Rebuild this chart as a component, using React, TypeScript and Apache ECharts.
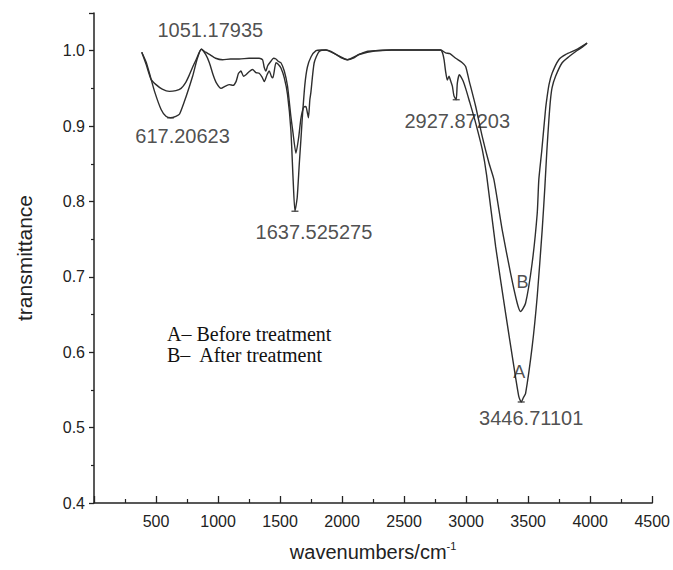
import React, { useEffect, useRef } from 'react';
import * as echarts from 'echarts';

// Curve A - before treatment
const waveA = [385, 420, 447, 490, 541, 580, 617, 660, 690, 742, 795, 830, 865, 900, 930, 960, 984, 1024, 1060, 1091, 1120, 1145, 1165, 1185, 1205, 1225, 1250, 1278, 1305, 1332, 1355, 1373, 1395, 1413, 1430, 1442, 1467, 1485, 1507, 1534, 1560, 1587, 1605, 1620, 1638, 1655, 1668, 1681, 1700, 1720, 1750, 1790, 1830, 1870, 1910, 1950, 2000, 2043, 2090, 2137, 2200, 2272, 2400, 2600, 2795, 2810, 2822, 2835, 2848, 2862, 2875, 2889, 2902, 2920, 2929, 2945, 2956, 2975, 2996, 3023, 3077, 3130, 3165, 3238, 3318, 3385, 3425, 3444, 3462, 3479, 3532, 3573, 3613, 3635, 3651, 3667, 3680, 3693, 3721, 3774, 3828, 3884, 3930, 3975];
const transA = [0.998, 0.985, 0.970, 0.945, 0.922, 0.913, 0.911, 0.913, 0.916, 0.939, 0.966, 0.988, 1.002, 0.995, 0.984, 0.968, 0.958, 0.950, 0.953, 0.955, 0.954, 0.959, 0.970, 0.973, 0.966, 0.968, 0.972, 0.975, 0.971, 0.970, 0.965, 0.959, 0.968, 0.973, 0.966, 0.964, 0.984, 0.982, 0.977, 0.964, 0.942, 0.895, 0.830, 0.787, 0.805, 0.850, 0.882, 0.915, 0.955, 0.978, 0.992, 1.000, 1.001, 1.001, 0.999, 0.995, 0.990, 0.988, 0.990, 0.995, 0.999, 1.000, 1.001, 1.001, 1.001, 0.997, 0.988, 0.972, 0.961, 0.966, 0.960, 0.953, 0.940, 0.935, 0.957, 0.968, 0.966, 0.960, 0.950, 0.935, 0.904, 0.869, 0.835, 0.740, 0.652, 0.581, 0.541, 0.534, 0.540, 0.545, 0.607, 0.674, 0.762, 0.820, 0.868, 0.908, 0.935, 0.951, 0.966, 0.984, 0.992, 0.999, 1.004, 1.010];

// Curve B - after treatment
const waveB = [385, 420, 460, 500, 550, 608, 660, 702, 740, 769, 800, 823, 865, 900, 930, 980, 1037, 1100, 1171, 1250, 1332, 1359, 1372, 1386, 1400, 1426, 1447, 1467, 1485, 1507, 1534, 1560, 1587, 1605, 1628, 1650, 1668, 1690, 1708, 1720, 1729, 1740, 1748, 1775, 1815, 1870, 1950, 2043, 2137, 2272, 2400, 2600, 2795, 2835, 2869, 2916, 2969, 2996, 3023, 3077, 3130, 3184, 3224, 3291, 3358, 3412, 3439, 3479, 3532, 3573, 3586, 3610, 3640, 3653, 3668, 3693, 3747, 3804, 3884, 3975];
const transB = [0.998, 0.982, 0.962, 0.955, 0.949, 0.946, 0.947, 0.950, 0.958, 0.968, 0.980, 0.988, 1.002, 0.998, 0.995, 0.990, 0.988, 0.989, 0.989, 0.990, 0.990, 0.988, 0.978, 0.973, 0.980, 0.986, 0.990, 0.989, 0.986, 0.984, 0.973, 0.953, 0.913, 0.890, 0.864, 0.885, 0.910, 0.925, 0.926, 0.918, 0.911, 0.935, 0.944, 0.984, 0.999, 1.001, 0.995, 0.988, 0.995, 1.000, 1.001, 1.001, 1.001, 0.997, 0.996, 0.990, 0.984, 0.979, 0.961, 0.926, 0.886, 0.851, 0.829, 0.762, 0.705, 0.665, 0.654, 0.665, 0.718, 0.784, 0.829, 0.868, 0.922, 0.939, 0.955, 0.970, 0.988, 0.995, 1.001, 1.010];

// Annotated peaks
const peakWave = [617, 865, 1620, 2920, 3444];
const peakTrans = [0.911, 1.002, 0.787, 0.935, 0.534];
const peakLabels = ['617.20623', '1051.17935', '1637.525275', '2927.87203', '3446.71101'];

// Curve tags at minima
const tagWave = [3444, 3439];
const tagTrans = [0.534, 0.654];
const tagLabels = ['A', 'B'];

const seriesNames = ['A\u2013 Before treatment', 'B\u2013  After treatment'];

// Layout (styles)
const peakLabelOffsets = [[12, 18], [9, -19], [19, 21], [1, 21], [10, 16]];
const peakMarkerShown = [true, false, true, true, true];
const tagOffsets = [[-2, -30], [2, -30]];

const SANS = "'Liberation Sans', Arial, Helvetica, sans-serif";
const SERIF = "'Liberation Serif', 'Times New Roman', serif";

export default function App() {
  const ref = useRef<HTMLDivElement>(null);

  useEffect(() => {
    document.body.style.margin = '0';
    if (!ref.current) return;
    const chart = echarts.init(ref.current, undefined, { renderer: 'svg' });

    const dataA = waveA.map((w, i) => [w, transA[i]]);
    const dataB = waveB.map((w, i) => [w, transB[i]]);

    const peakData = peakWave.map((w, i) => ({
      value: [w, peakTrans[i]],
      symbolSize: peakMarkerShown[i] ? [7, 1.5] : 0,
      label: {
        show: true,
        position: 'inside',
        offset: peakLabelOffsets[i],
        formatter: peakLabels[i],
      },
    }));

    const tagData = tagWave.map((w, i) => ({
      value: [w, tagTrans[i]],
      label: {
        show: true,
        position: 'inside',
        offset: tagOffsets[i],
        formatter: tagLabels[i],
      },
    }));

    const lineColor = '#2e2e2e';

    const option: any = {
      animation: false,
      backgroundColor: '#ffffff',
      grid: { left: 94, right: 19, top: 13, bottom: 67 },
      legend: {
        data: seriesNames,
        orient: 'vertical',
        left: 162,
        top: 324,
        padding: 0,
        icon: 'none',
        itemWidth: 0,
        itemHeight: 20,
        itemGap: 1,
        selectedMode: false,
        textStyle: { fontFamily: SERIF, fontSize: 20, color: '#111', lineHeight: 20 },
      },
      xAxis: {
        type: 'value',
        min: 0,
        max: 4500,
        interval: 500,
        name: '{t|wavenumbers/cm}{s|-1}',
        nameLocation: 'middle',
        nameGap: 37,
        nameTextStyle: {
          rich: {
            t: { fontFamily: SANS, fontSize: 20, color: '#222', lineHeight: 24 },
            s: { fontFamily: SANS, fontSize: 11, color: '#222', lineHeight: 12, verticalAlign: 'top' },
          },
        },
        axisLine: { onZero: false, lineStyle: { color: '#222', width: 1.5 } },
        axisTick: { inside: true, length: 7, lineStyle: { color: '#222', width: 1.3 } },
        minorTick: { show: true, splitNumber: 2, length: 4, lineStyle: { color: '#222', width: 1.2 } },
        axisLabel: {
          margin: 10,
          fontFamily: SANS,
          fontSize: 16,
          color: '#222',
          formatter: (v: number) => (v === 0 ? '' : String(v)),
        },
        splitLine: { show: false },
      },
      yAxis: {
        type: 'value',
        min: 0.4,
        max: 1.05,
        interval: 0.1,
        name: 'transmittance',
        nameLocation: 'middle',
        nameGap: 59,
        nameRotate: 90,
        nameTextStyle: { fontFamily: SANS, fontSize: 21, color: '#222' },
        axisLine: { lineStyle: { color: '#222', width: 1.5 } },
        axisTick: { inside: false, length: 5, lineStyle: { color: '#222', width: 1.3 } },
        minorTick: { show: true, splitNumber: 2, length: 3, lineStyle: { color: '#222', width: 1.2 } },
        axisLabel: {
          margin: 9,
          fontFamily: SANS,
          fontSize: 16,
          color: '#222',
          showMaxLabel: false,
          formatter: (v: number) => v.toFixed(1),
        },
        splitLine: { show: false },
      },
      series: [
        {
          name: seriesNames[0],
          type: 'line',
          data: dataA,
          showSymbol: false,
          symbol: 'none',
          smooth: 0.2,
          lineStyle: { color: lineColor, width: 1.4 },
          itemStyle: { color: lineColor },
          z: 3,
        },
        {
          name: seriesNames[1],
          type: 'line',
          data: dataB,
          showSymbol: false,
          symbol: 'none',
          smooth: 0.2,
          lineStyle: { color: lineColor, width: 1.4 },
          itemStyle: { color: lineColor },
          z: 3,
        },
        {
          name: 'peaks',
          type: 'scatter',
          symbol: 'rect',
          data: peakData,
          itemStyle: { color: '#333' },
          label: { fontFamily: SANS, fontSize: 20, color: '#222' },
          silent: true,
          z: 4,
        },
        {
          name: 'tags',
          type: 'scatter',
          symbolSize: 0,
          data: tagData,
          label: { fontFamily: SANS, fontSize: 18, color: '#222' },
          silent: true,
          z: 4,
        },
      ],
    };

    chart.setOption(option);
    return () => {
      chart.dispose();
    };
  }, []);

  return <div ref={ref} style={{ width: 673, height: 570 }} />;
}
